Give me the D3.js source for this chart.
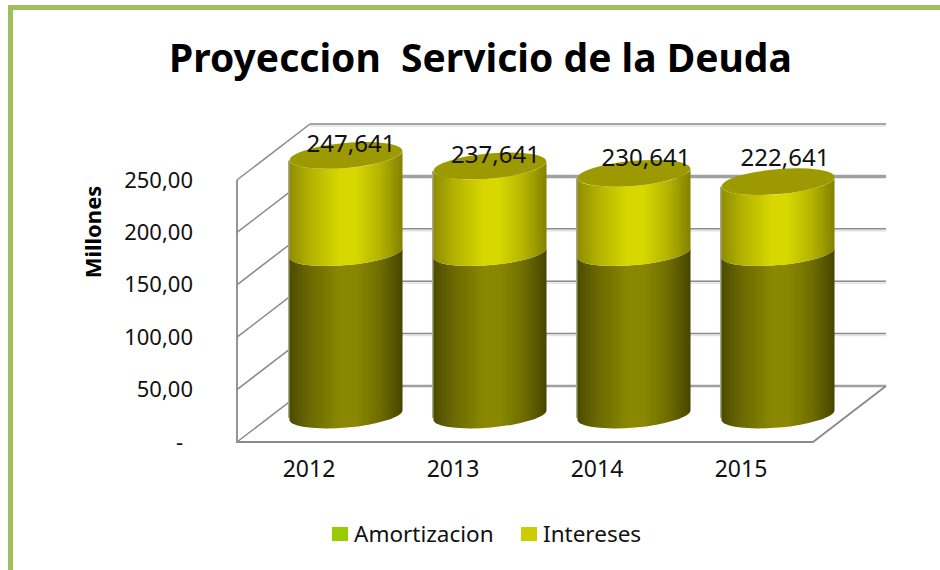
<!DOCTYPE html>
<html>
<head>
<meta charset="utf-8">
<script src="https://cdn.jsdelivr.net/npm/d3@7/dist/d3.min.js"></script>
<style>
    html, body { margin: 0; padding: 0; background: #fff; }
    text { font-family: "Noto Sans", sans-serif; fill: #111; }
</style>
</head>
<body>
<div id="chart"></div>
<script>
const categories = ["2012", "2013", "2014", "2015"];
const amortizacion = [155, 155, 155, 155];
const intereses = [92.641, 82.641, 75.641, 67.641];
const totalLabels = ["247,641", "237,641", "230,641", "222,641"];
const yTicks = [0, 50, 100, 150, 200, 250];
const yTickLabels = ["-", "50,00", "100,00", "150,00", "200,00", "250,00"];
const seriesNames = ["Amortizacion", "Intereses"];

const width = 940;
const height = 570;
const marginLeft = 237;
const floorY = 442;
const plotRight = 813;
const depthX = 73;
const depthY = 56;
const gridColor = "#8a8a8a";

const svg = d3.select("#chart")
    .append("svg")
    .attr("width", width)
    .attr("height", height)
    .style("display", "block");

// scales are for the front plane, the back wall is shifted by depthX/depthY
const x = d3.scaleBand()
    .domain(categories)
    .range([marginLeft, plotRight])
    .paddingInner(0)
    .paddingOuter(0);

const y = d3.scaleLinear()
    .domain([0, 250])
    .range([floorY, floorY - 262]);

// gradients for the cylinder sides
const defs = svg.append("defs");
function addGradient(id, stops) {
    const g = defs.append("linearGradient").attr("id", id);
    stops.forEach(([offset, color]) => {
        g.append("stop").attr("offset", offset).attr("stop-color", color);
    });
}
addGradient("sideAmort", [
    [0, "#4d4b00"], [0.18, "#6b6900"], [0.45, "#8a8800"], [0.58, "#8a8800"],
    [0.8, "#6f6d00"], [1, "#474500"],
]);
addGradient("sideInt", [
    [0, "#8f8d00"], [0.18, "#b3b100"], [0.45, "#d8d800"], [0.58, "#d8d800"],
    [0.8, "#b5b300"], [1, "#838100"],
]);

// outer frame, only top and left are inside the picture
svg.append("path")
    .attr("d", "M10.5,570V7.5H940")
    .attr("fill", "none")
    .attr("stroke", "#9fbf5c")
    .attr("stroke-width", 5);

svg.append("text")
    .attr("x", 480.5)
    .attr("y", 72)
    .attr("text-anchor", "middle")
    .style("font-size", "39px")
    .style("font-weight", "bold")
    .style("white-space", "pre")
    .style("fill", "#000")
    .text("Proyeccion  Servicio de la Deuda");

// back wall grid lines
const walls = svg.append("g").attr("fill", "none").attr("stroke", gridColor);

walls.selectAll(".shadow")
    .data(yTicks.filter((d) => d > 0 && d !== 200))
    .join("line")
    .attr("class", "shadow")
    .attr("x1", marginLeft + depthX)
    .attr("x2", plotRight + depthX)
    .attr("y1", (d) => y(d) - depthY + 2)
    .attr("y2", (d) => y(d) - depthY + 2)
    .attr("stroke", "#e2e2e2")
    .attr("stroke-width", 1.5);

walls.selectAll(".grid")
    .data(yTicks)
    .join("line")
    .attr("class", "grid")
    .attr("x1", marginLeft + depthX)
    .attr("x2", plotRight + depthX)
    .attr("y1", (d) => y(d) - depthY)
    .attr("y2", (d) => y(d) - depthY)
    .attr("stroke", (d) => (d === 200 || d === 0 ? "#a0a0a0" : gridColor))
    .attr("stroke-width", (d) => (d === 200 ? 3.5 : d === 0 ? 2.5 : 1.5));

// side wall lines
walls.selectAll(".side")
    .data(yTicks)
    .join("line")
    .attr("class", "side")
    .attr("x1", marginLeft)
    .attr("x2", marginLeft + depthX)
    .attr("y1", (d) => y(d))
    .attr("y2", (d) => y(d) - depthY)
    .attr("stroke-width", 1.5);

// left edge, front floor edge and right floor edge
walls.append("path")
    .attr("d", `M${marginLeft},${y(250)}V${floorY}H${plotRight}L${plotRight + depthX},${floorY - depthY}`)
    .attr("stroke-width", 1.8);

// cylinders
const barWidth = x.bandwidth() * 0.785;
const rx = barWidth / 2;
const ry = 12.5;
const tilt = -5;
const tiltRad = (tilt * Math.PI) / 180;
const edgeDy = rx * Math.sin(tiltRad);
const cylDx = depthX / 2 + 0.5;
const cylDy = depthY / 2 - 1;

function cx(cat) {
    return x(cat) + x.bandwidth() / 2 + cylDx;
}

// side shape between two tilted ellipses, using svg arcs with the x rotation
function sidePath(c, yBottom, yTop) {
    return `M${c - rx},${yTop - edgeDy}` +
        `L${c - rx},${yBottom - edgeDy}` +
        `A${rx},${ry} ${tilt} 0 0 ${c + rx},${yBottom + edgeDy}` +
        `L${c + rx},${yTop + edgeDy}` +
        `A${rx},${ry} ${tilt} 0 1 ${c - rx},${yTop - edgeDy}Z`;
}

const bars = svg.append("g")
    .selectAll("g")
    .data(categories)
    .join("g");

// grey shadow along the left side
bars.append("rect")
    .attr("x", (d) => cx(d) - rx - 1.5)
    .attr("width", 2)
    .attr("y", (d, i) => y(amortizacion[i] + intereses[i]) - cylDy + 5)
    .attr("height", (d, i) => y(0) - y(amortizacion[i] + intereses[i]) - 2)
    .attr("fill", "#a9a98f");

bars.append("path")
    .attr("d", (d, i) => sidePath(cx(d), y(0) - cylDy, y(amortizacion[i]) - cylDy))
    .attr("fill", "url(#sideAmort)");

bars.append("path")
    .attr("d", (d, i) => sidePath(cx(d), y(amortizacion[i]) - cylDy, y(amortizacion[i] + intereses[i]) - cylDy))
    .attr("fill", "url(#sideInt)");

bars.append("ellipse")
    .attr("rx", rx)
    .attr("ry", ry)
    .attr("transform", (d, i) => `translate(${cx(d)},${y(amortizacion[i] + intereses[i]) - cylDy}) rotate(${tilt})`)
    .attr("fill", "#9c9a00");

// data labels were moved by hand in the original
const labelDx = [5, 5.5, 12, 7];
const labelDy = [-3, -3, -7, -16];
svg.append("g")
    .selectAll("text")
    .data(categories)
    .join("text")
    .attr("x", (d, i) => cx(d) + labelDx[i])
    .attr("y", (d, i) => y(amortizacion[i] + intereses[i]) - cylDy + labelDy[i])
    .attr("text-anchor", "middle")
    .style("font-size", "24px")
    .text((d, i) => totalLabels[i]);

// axes
svg.append("g")
    .attr("transform", `translate(${marginLeft},0)`)
    .call(d3.axisLeft(y)
        .tickValues(yTicks)
        .tickSize(0)
        .tickPadding(44)
        .tickFormat((d, i) => yTickLabels[i]))
    .call((g) => g.select(".domain").remove())
    .call((g) => g.selectAll("text")
        .attr("dx", (d) => (d === 0 ? -10 : 0))
        .style("font-size", "22px")
        .style("font-family", '"Noto Sans", sans-serif')
        .style("fill", "#111"));

svg.append("g")
    .attr("transform", `translate(0,${floorY})`)
    .call(d3.axisBottom(x).tickSize(0).tickPadding(19))
    .call((g) => g.select(".domain").remove())
    .call((g) => g.selectAll("text")
        .style("font-size", "23px")
        .style("font-family", '"Noto Sans", sans-serif')
        .style("fill", "#111"));

svg.append("text")
    .attr("transform", "translate(101,232) rotate(-90)")
    .attr("text-anchor", "middle")
    .style("font-size", "22px")
    .style("font-weight", "bold")
    .style("fill", "#000")
    .text("Millones");

// legend
const legendColors = ["#99cc00", "#cccc00"];
const legendX = [332, 521];
const legend = svg.append("g")
    .selectAll("g")
    .data(seriesNames)
    .join("g")
    .attr("transform", (d, i) => `translate(${legendX[i]},527)`);

legend.append("rect")
    .attr("width", 16)
    .attr("height", 14)
    .attr("fill", (d, i) => legendColors[i]);

legend.append("text")
    .attr("x", 22)
    .attr("y", 15)
    .style("font-size", "22.5px")
    .text((d) => d);
</script>
</body>
</html>
